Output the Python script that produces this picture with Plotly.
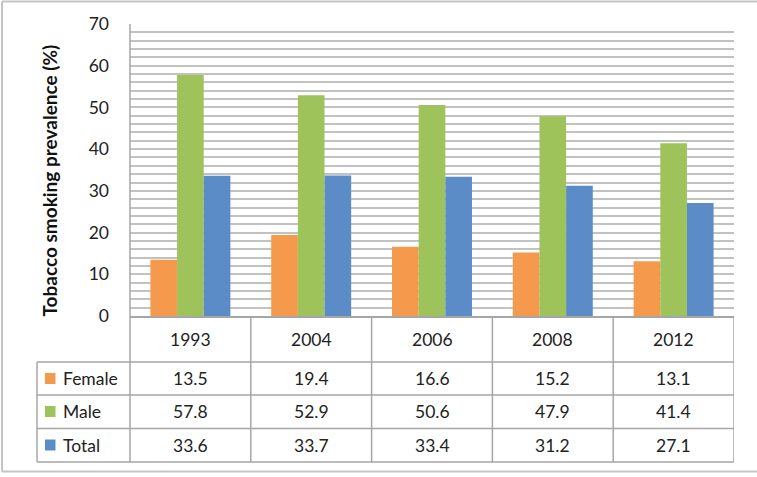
import plotly.graph_objects as go

years = ["1993", "2004", "2006", "2008", "2012"]
female = [13.5, 19.4, 16.6, 15.2, 13.1]
male = [57.8, 52.9, 50.6, 47.9, 41.4]
total = [33.6, 33.7, 33.4, 31.2, 27.1]
series_names = ["Female", "Male", "Total"]
series_colors = ["#F59A4C", "#9DC35A", "#5B8CC8"]
y_ticks = [0, 10, 20, 30, 40, 50, 60, 70]

W, H = 757, 477
FONT = "Lato"


def py(px):
    return (H - px) / H


def pxx(px):
    return px / W


fig = go.Figure()
for name, vals, col in zip(series_names, [female, male, total], series_colors):
    fig.add_trace(go.Bar(x=years, y=vals, name=name, marker=dict(color=col, line=dict(width=0))))

shapes = []
annotations = []
line_col = "#A6A6A6"
lw = 1.5
frame_col = "#C4C4C4"

# outer frame (top, left, bottom; right side runs off the canvas)
shapes.append(dict(type="line", xref="paper", yref="paper", x0=pxx(2), x1=1, y0=py(1.5), y1=py(1.5),
                   line=dict(color=frame_col, width=2)))
shapes.append(dict(type="line", xref="paper", yref="paper", x0=pxx(2), x1=1, y0=py(471.5), y1=py(471.5),
                   line=dict(color=frame_col, width=2)))
shapes.append(dict(type="line", xref="paper", yref="paper", x0=pxx(2), x1=pxx(2), y0=py(1.5), y1=py(471.5),
                   line=dict(color=frame_col, width=2)))

row_lines = [362, 395, 428.5, 462]
table_left = 37
plot_left, plot_right = 130, 734
for yl in row_lines:
    shapes.append(dict(type="line", xref="paper", yref="paper", x0=pxx(table_left), x1=pxx(plot_right),
                       y0=py(yl), y1=py(yl), line=dict(color=line_col, width=lw)))
shapes.append(dict(type="line", xref="paper", yref="paper", x0=pxx(table_left), x1=pxx(table_left),
                   y0=py(362), y1=py(462), line=dict(color=line_col, width=lw)))
shapes.append(dict(type="line", xref="paper", yref="paper", x0=pxx(plot_left), x1=pxx(plot_left),
                   y0=py(24), y1=py(462), line=dict(color=line_col, width=lw)))
for i in range(1, len(years) + 1):
    shapes.append(dict(type="line", xref="x", yref="paper", x0=i - 0.5, x1=i - 0.5,
                       y0=py(316), y1=py(462), line=dict(color=line_col, width=lw)))

row_centers = [378.5, 411.5, 445]
table_font = dict(family=FONT, size=17.5, color="#222222")
for i, yr in enumerate(years):
    annotations.append(dict(x=i, y=py(339), xref="x", yref="paper", text=yr, showarrow=False,
                            font=table_font, xanchor="center", yanchor="middle"))
for r, (name, vals, col) in enumerate(zip(series_names, [female, male, total], series_colors)):
    yc = row_centers[r]
    for i, v in enumerate(vals):
        annotations.append(dict(x=i, y=py(yc), xref="x", yref="paper", text=f"{v:.1f}", showarrow=False,
                                font=table_font, xanchor="center", yanchor="middle"))
    shapes.append(dict(type="rect", xref="paper", yref="paper", x0=pxx(45), x1=pxx(55.5),
                       y0=py(yc + 5.5), y1=py(yc - 5.5), fillcolor=col, line=dict(width=0)))
    annotations.append(dict(x=pxx(61), y=py(yc), xref="paper", yref="paper", text=name, showarrow=False,
                            font=table_font, xanchor="left", yanchor="middle"))

annotations.append(dict(x=pxx(49), y=py(180.5), xref="paper", yref="paper",
                        text="<b>Tobacco smoking prevalence (%)</b>", textangle=-90, showarrow=False,
                        font=dict(family=FONT, size=19, color="#111111"),
                        xanchor="center", yanchor="middle"))

fig.update_layout(
    template="none",
    width=W, height=H,
    margin=dict(l=0, r=0, t=0, b=0, pad=0, autoexpand=False),
    paper_bgcolor="white", plot_bgcolor="white",
    barmode="group", bargap=0.338, bargroupgap=0,
    showlegend=False,
    shapes=shapes, annotations=annotations,
    xaxis=dict(domain=[pxx(plot_left), pxx(plot_right)], type="category", range=[-0.5, len(years) - 0.5],
               showticklabels=False, showline=True, linecolor=line_col, linewidth=lw, ticks="",
               showgrid=False, zeroline=False, fixedrange=True, automargin=False),
    yaxis=dict(domain=[py(316), py(24)], range=[0, 70], tickvals=y_ticks, ticktext=[str(t) for t in y_ticks],
               showgrid=True, gridcolor="#C2C2C2", gridwidth=1.5,
               minor=dict(dtick=2, showgrid=True, gridcolor="#C2C2C2", gridwidth=1.5),
               showline=False, zeroline=False, ticks="", ticklabelstandoff=20, automargin=False,
               tickfont=dict(family=FONT, size=17.5, color="#222222"), fixedrange=True),
    font=dict(family=FONT),
)

fig.write_html("out.html", config={"displayModeBar": False},
               post_script="document.body.style.margin='0';document.body.style.padding='0';")
